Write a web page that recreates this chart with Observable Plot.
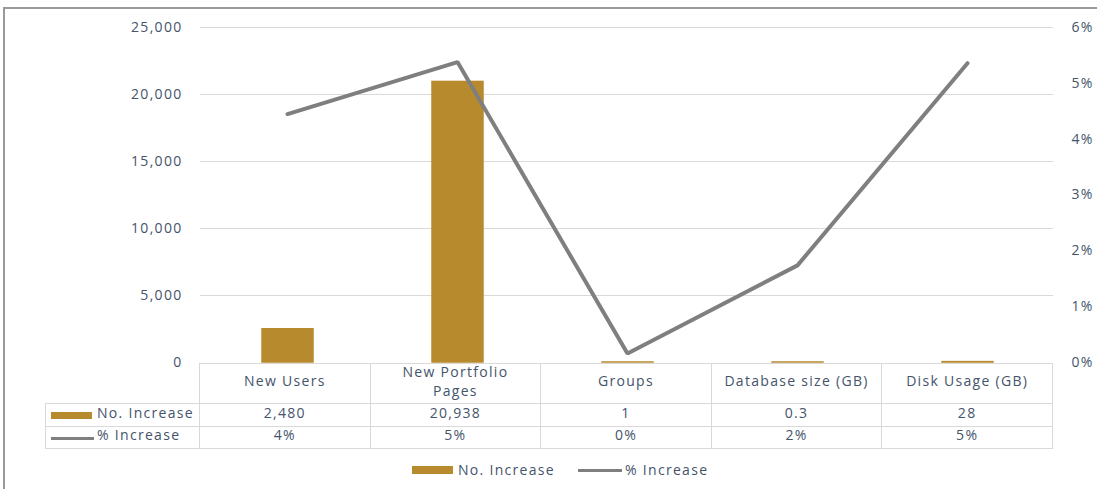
<!DOCTYPE html>
<html><head><meta charset="utf-8">
<script src="https://cdn.jsdelivr.net/npm/d3@7"></script>
<script src="https://cdn.jsdelivr.net/npm/@observablehq/plot@0.6"></script>
<style>
body{margin:0;width:1097px;height:489px;overflow:hidden;background:#fff;font-family:"Open Sans",sans-serif;color:#44546A;position:relative;}
#frame{position:absolute;left:3px;top:7px;width:1200px;height:600px;border-top:2px solid #9a9a9a;border-left:2px solid #9a9a9a;}
#chart{position:absolute;left:0;top:0;}
#chart svg text{letter-spacing:1.3px;}
table{position:absolute;left:45px;top:363px;border-collapse:collapse;table-layout:fixed;font-size:14px;letter-spacing:1.3px;color:#44546A;}
td{border:1px solid #D9D9D9;text-align:center;padding:0;white-space:nowrap;}
td.corner{border-top:none;border-left:none;}
tr.head td{height:39px;line-height:19px;white-space:normal;}
tr.r1 td{height:22px;}
tr.r2 td{height:21px;}
td.lab{text-align:left;padding-left:5px;}
span.t{position:relative;top:-3px;}
.sw{display:inline-block;width:41px;height:7px;background:#B88A2E;margin-right:5px;vertical-align:middle;position:relative;top:-1px;}
.ln{display:inline-block;width:43px;height:3px;background:#7F7F7F;margin-right:3px;vertical-align:middle;position:relative;top:-1px;}
#legend{position:absolute;left:412px;top:458px;height:22px;display:flex;align-items:center;font-size:14px;letter-spacing:1.3px;color:#44546A;}
#legend .sw{height:8px;top:1px;}
#legend .ln{width:44px;margin-left:23px;top:1px;}
</style>
</head><body>
<div id="frame"></div>
<div id="chart"></div>
<table id="tbl"></table>
<div id="legend"></div>
<script>
const categories = ["New Users", "New Portfolio Pages", "Groups", "Database size (GB)", "Disk Usage (GB)"];
const headerLabels = ["New Users", "New Portfolio<br>Pages", "Groups", "Database size (GB)", "Disk Usage (GB)"];
const noIncrease = [2480, 20938, 1, 0.3, 28];
const pctIncrease = [4.45, 5.38, 0.16, 1.74, 5.36];
const countTicks = [0, 5000, 10000, 15000, 20000, 25000];
const pctTicks = [0, 1, 2, 3, 4, 5, 6];
const seriesNames = ["No. Increase", "% Increase"];
const countMax = 25000, pctMax = 6;

const toCount = p => p / pctMax * countMax;
const rows = categories.map((c, i) => ({category: c, count: noIncrease[i], pct: pctIncrease[i], pctScaled: toCount(pctIncrease[i])}));

const barColor = "#B88A2E", lineColor = "#7F7F7F";

const chart = Plot.plot({
  width: 1097, height: 370,
  marginTop: 27, marginBottom: 8, marginLeft: 200, marginRight: 44,
  x: {domain: categories, padding: 0, axis: null},
  y: {domain: [0, countMax], axis: null},
  style: {fontFamily: "Open Sans, sans-serif", fontSize: "14px", color: "#44546A", background: "transparent", overflow: "visible"},
  marks: [
    Plot.gridY(countTicks.filter(d => d > 0), {stroke: "#D9D9D9", strokeOpacity: 1}),
    Plot.axisY(countTicks, {anchor: "left", tickSize: 0, tickPadding: 18, tickFormat: d3.format(",")}),
    Plot.axisY(pctTicks.map(toCount), {anchor: "right", tickSize: 0, tickPadding: 18, tickFormat: d => Math.round(d / countMax * pctMax) + "%"}),
    Plot.barY(rows, {x: "category", y: "count", fill: barColor, stroke: barColor, strokeWidth: 1.5, insetLeft: 60, insetRight: 59}),
    Plot.line(rows, {x: "category", y: "pctScaled", stroke: lineColor, strokeWidth: 4, strokeLinejoin: "miter", strokeLinecap: "round"})
  ]
});
document.getElementById("chart").appendChild(chart);

const fmtCount = d3.format(",");
let html = '<colgroup><col style="width:154px">' + categories.map(() => '<col style="width:170.6px">').join("") + '</colgroup>';
html += '<tr class="head"><td class="corner"></td>' + headerLabels.map(h => `<td><span class="t">${h}</span></td>`).join("") + '</tr>';
html += `<tr class="r1"><td class="lab"><span class="sw"></span><span class="t">${seriesNames[0]}</span></td>` + noIncrease.map(v => `<td><span class="t">${fmtCount(v)}</span></td>`).join("") + '</tr>';
html += `<tr class="r2"><td class="lab"><span class="ln"></span><span class="t">${seriesNames[1]}</span></td>` + pctIncrease.map(v => `<td><span class="t">${Math.round(v)}%</span></td>`).join("") + '</tr>';
document.getElementById("tbl").innerHTML = html;

document.getElementById("legend").innerHTML = `<span class="sw"></span><span>${seriesNames[0]}</span><span class="ln"></span><span>${seriesNames[1]}</span>`;
</script>
</body></html>
